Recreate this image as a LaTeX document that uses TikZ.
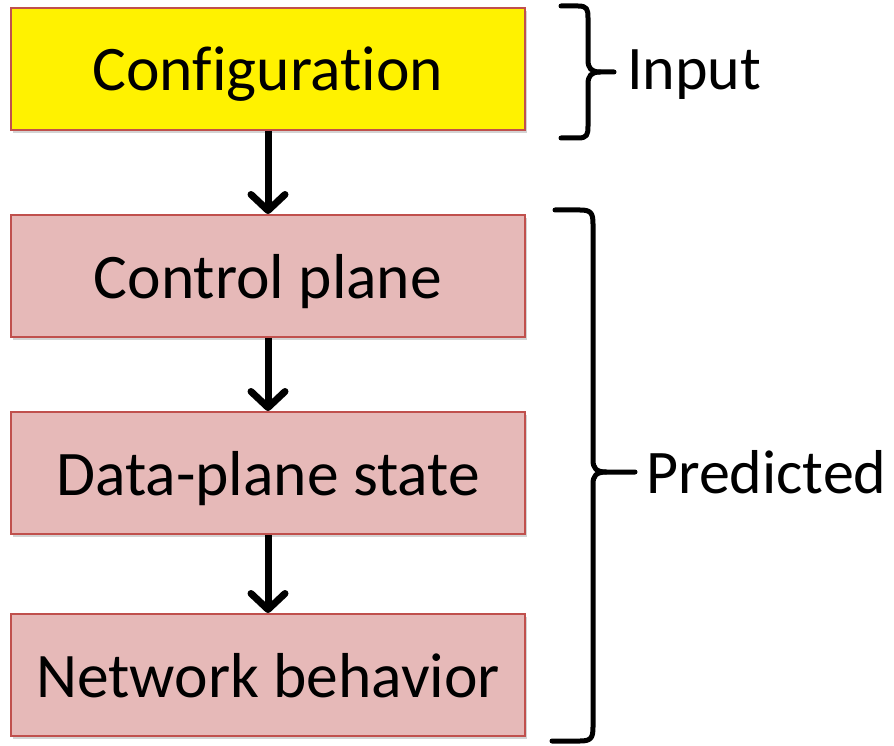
\documentclass[tikz,border=0pt]{standalone}
\usepackage{fontspec}
\setmainfont[Ligatures=NoCommon]{Carlito}
\usetikzlibrary{arrows.meta,shadows}
\definecolor{boxpink}{HTML}{E6B9B8}
\definecolor{boxred}{HTML}{C0504D}
\begin{document}
\begin{tikzpicture}[x=1pt,y=-1pt,
  stagebox/.style={draw=boxred, line width=2pt, minimum width=514pt, minimum height=122pt,
    inner sep=0pt, font=\fontsize{63.5}{70}\selectfont, text height=57pt, text depth=13pt,
    drop shadow={opacity=0.35, shadow xshift=2pt, shadow yshift=-3pt}},
  flow/.style={line width=7pt, -{Straight Barb[length=16pt,width=34pt,line cap=round,line join=round]}},
  brace/.style={line width=5pt, line cap=round, line join=round},
  lbl/.style={font=\fontsize{62}{70}\selectfont, anchor=base west, inner sep=0pt}]
\useasboundingbox (0,0) rectangle (894,746);
\node[stagebox, fill=yellow] (cfg) at (268,69) {Configuration};
\node[stagebox, fill=boxpink] (cp) at (268,276) {Control plane};
\node[stagebox, fill=boxpink] (dp) at (268,473) {Data-plane state};
\node[stagebox, fill=boxpink] (nb) at (268,675) {Network behavior};
\draw[flow] (cfg.south) -- (cp.north);
\draw[flow] (cp.south) -- (dp.north);
\draw[flow] (dp.south) -- (nb.north);
% Input brace
\coordinate (itip) at (614,72);
\draw[brace] (561,6) -- (578,6) .. controls (587,6) and (588,9) .. (588,18)
  -- (588,60) .. controls (588,68) and (591,72) .. (600,72) -- (itip);
\draw[brace] (561,138) -- (578,138) .. controls (587,138) and (588,135) .. (588,126)
  -- (588,84) .. controls (588,76) and (591,72) .. (600,72);
\node[lbl] (inp) at (627,90) {Input};
% Predicted brace
\coordinate (ptip) at (635,472);
\draw[brace] (555,210) -- (580,210) .. controls (591,210) and (593,213) .. (593,224)
  -- (593,460) .. controls (593,468) and (596,472) .. (606,472) -- (ptip);
\draw[brace] (552,741) -- (580,741) .. controls (591,741) and (593,738) .. (593,727)
  -- (593,484) .. controls (593,476) and (596,472) .. (606,472);
\node[lbl] (pred) at (646,493) {Predicted};
\end{tikzpicture}
\end{document}
